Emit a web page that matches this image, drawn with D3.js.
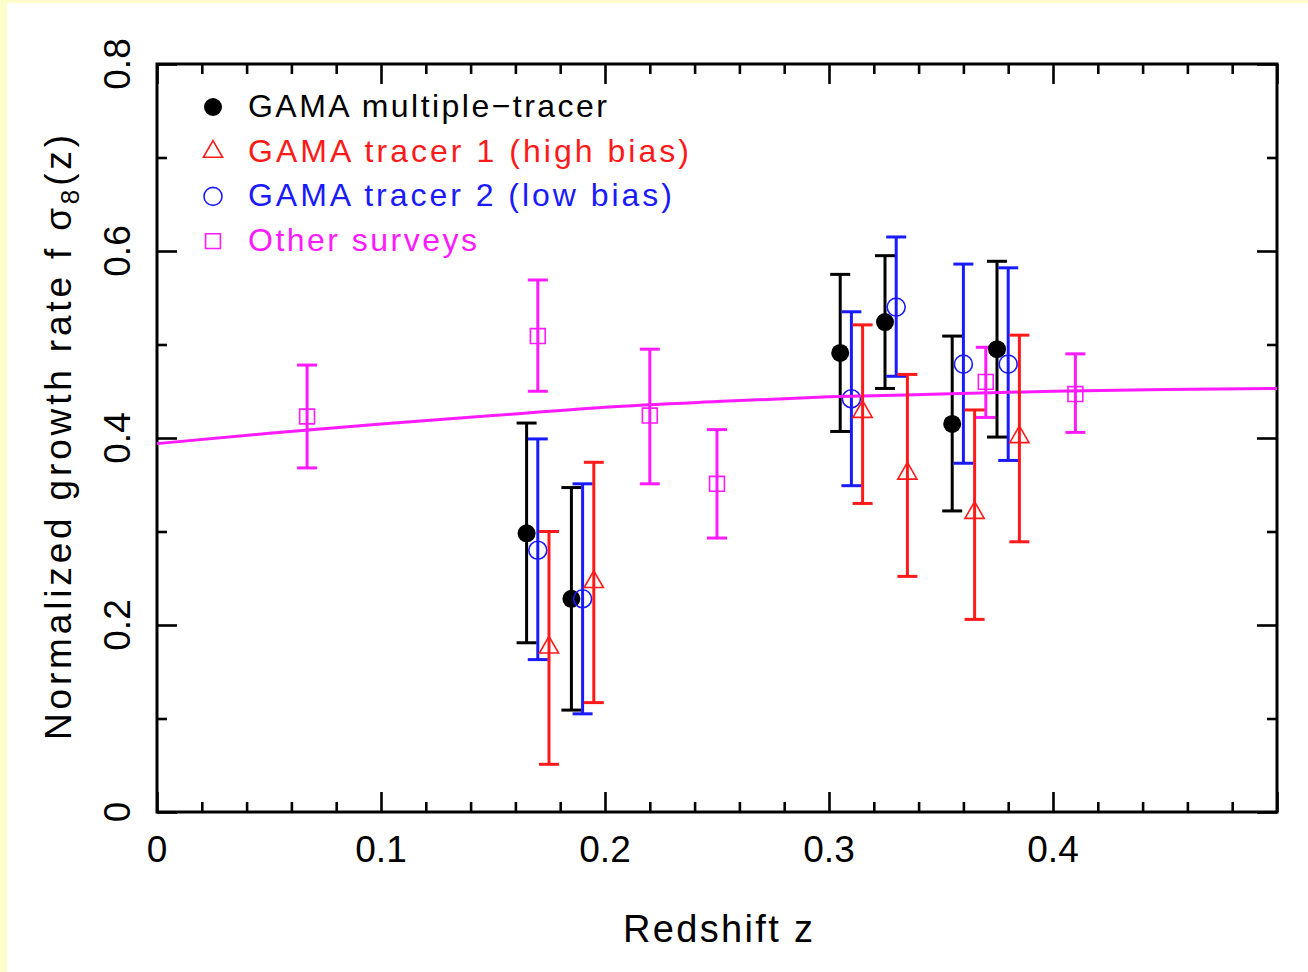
<!DOCTYPE html>
<html>
<head>
<meta charset="utf-8">
<script src="https://cdn.jsdelivr.net/npm/d3@7"></script>
<style>
  html, body { margin: 0; padding: 0; background: #fffdcc; }
  svg { display: block; }
  text { font-family: "Liberation Sans", Arial, sans-serif; }
</style>
</head>
<body>
<svg id="chart" width="1308" height="972"></svg>
<script>
// Growth-rate measurements f*sigma8(z): GAMA multiple-tracer, single tracers and other surveys
const multiZ  = [0.165, 0.185, 0.305, 0.325, 0.355, 0.375];
const multiF  = [0.298, 0.228, 0.491, 0.524, 0.415, 0.495];
const multiLo = [0.181, 0.109, 0.407, 0.453, 0.322, 0.401];
const multiHi = [0.416, 0.347, 0.575, 0.595, 0.509, 0.589];

const tracer1Z  = [0.175, 0.195, 0.315, 0.335, 0.365, 0.385];
const tracer1F  = [0.176, 0.246, 0.428, 0.362, 0.320, 0.401];
const tracer1Lo = [0.051, 0.117, 0.330, 0.252, 0.206, 0.289];
const tracer1Hi = [0.300, 0.374, 0.521, 0.468, 0.430, 0.510];

const tracer2Z  = [0.17, 0.19, 0.31, 0.33, 0.36, 0.38];
const tracer2F  = [0.280, 0.228, 0.442, 0.540, 0.479, 0.479];
const tracer2Lo = [0.163, 0.105, 0.349, 0.466, 0.373, 0.376];
const tracer2Hi = [0.399, 0.351, 0.535, 0.615, 0.586, 0.582];

const otherZ  = [0.067, 0.17, 0.22, 0.25, 0.37, 0.41];
const otherF  = [0.423, 0.509, 0.424, 0.351, 0.460, 0.447];
const otherLo = [0.368, 0.450, 0.351, 0.293, 0.422, 0.406];
const otherHi = [0.478, 0.569, 0.495, 0.409, 0.497, 0.490];

// LCDM prediction
const modelZ = [0, 0.05, 0.1, 0.15, 0.2, 0.25, 0.3, 0.35, 0.4, 0.45, 0.5];
const modelF = [0.394, 0.405, 0.415, 0.424, 0.433, 0.439, 0.444, 0.447, 0.450, 0.452, 0.453];

const xMajor = [0, 0.1, 0.2, 0.3, 0.4, 0.5];
const xLabels = ["0", "0.1", "0.2", "0.3", "0.4", ""];
const xMinor = [0.02, 0.04, 0.06, 0.08, 0.12, 0.14, 0.16, 0.18, 0.22, 0.24, 0.26, 0.28,
                0.32, 0.34, 0.36, 0.38, 0.42, 0.44, 0.46, 0.48];
const yMajor = [0, 0.2, 0.4, 0.6, 0.8];
const yLabels = ["0", "0.2", "0.4", "0.6", "0.8"];
const yMinor = [0.1, 0.3, 0.5, 0.7];

const legendLabels = ["GAMA multiple\u2212tracer", "GAMA tracer 1 (high bias)",
                      "GAMA tracer 2 (low bias)", "Other surveys"];

const svg = d3.select("#chart");
svg.append("rect").attr("x", 7).attr("y", 3).attr("width", 1301).attr("height", 969).attr("fill", "#ffffff");

const pLeft = 157, pRight = 1277, pTop = 64, pBottom = 812;
const x = d3.scaleLinear().domain([0, 0.5]).range([pLeft, pRight]);
const y = d3.scaleLinear().domain([0, 0.8]).range([pBottom, pTop]);

const BLACK = "#000000", RED = "#ff1a1a", BLUE = "#1a1aff", MAG = "#ff1aff";

// ticks on all four sides, pointing inward
function tickAxis(axisFn, scale, vals, size, tx, ty) {
  const g = svg.append("g").attr("transform", `translate(${tx},${ty})`)
    .call(axisFn(scale).tickValues(vals).tickSize(size).tickFormat(""));
  g.select(".domain").remove();
  g.selectAll(".tick line").attr("stroke", BLACK).attr("stroke-width", 2.6);
  return g;
}
tickAxis(d3.axisBottom, x, xMajor, -20, 0, pBottom);
tickAxis(d3.axisBottom, x, xMinor, -10, 0, pBottom);
tickAxis(d3.axisTop, x, xMajor, -20, 0, pTop);
tickAxis(d3.axisTop, x, xMinor, -10, 0, pTop);
tickAxis(d3.axisLeft, y, yMajor, -20, pLeft, 0);
tickAxis(d3.axisLeft, y, yMinor, -10, pLeft, 0);
tickAxis(d3.axisRight, y, yMajor, -20, pRight, 0);
tickAxis(d3.axisRight, y, yMinor, -10, pRight, 0);

svg.append("rect").attr("x", pLeft).attr("y", pTop).attr("width", pRight - pLeft).attr("height", pBottom - pTop)
  .attr("fill", "none").attr("stroke", BLACK).attr("stroke-width", 3);

// tick labels
svg.append("g").selectAll("text").data(xMajor).join("text")
  .attr("x", d => x(d)).attr("y", 862).attr("text-anchor", "middle")
  .attr("font-size", 37).attr("fill", BLACK).text((d, i) => xLabels[i]);
svg.append("g").selectAll("text").data(yMajor).join("text")
  .attr("transform", d => `translate(130,${y(d)}) rotate(-90)`).attr("text-anchor", "middle")
  .attr("font-size", 37).attr("fill", BLACK).text((d, i) => yLabels[i]);

// axis titles
svg.append("text").attr("x", 623).attr("y", 942).attr("font-size", 38).attr("fill", BLACK)
  .attr("textLength", 190).attr("lengthAdjust", "spacing").text("Redshift z");
const yt = svg.append("text").attr("transform", "translate(71,740) rotate(-90)")
  .attr("font-size", 37).attr("fill", BLACK).attr("textLength", 605).attr("lengthAdjust", "spacing");
yt.append("tspan").text("Normalized growth rate f \u03c3");
yt.append("tspan").attr("font-size", 26).attr("dy", 8).text("8");
yt.append("tspan").attr("dy", -8).text("(z)");

// model curve
const line = d3.line().x((d, i) => x(modelZ[i])).y(d => y(d)).curve(d3.curveMonotoneX);

function errorBars(zs, lo, hi, color) {
  const g = svg.append("g").attr("stroke", color).attr("stroke-width", 3).attr("fill", "none");
  zs.forEach((z, i) => {
    g.append("line").attr("x1", x(z)).attr("x2", x(z)).attr("y1", y(lo[i])).attr("y2", y(hi[i]));
    g.append("line").attr("x1", x(z) - 10).attr("x2", x(z) + 10).attr("y1", y(lo[i])).attr("y2", y(lo[i]));
    g.append("line").attr("x1", x(z) - 10).attr("x2", x(z) + 10).attr("y1", y(hi[i])).attr("y2", y(hi[i]));
  });
}

const sym = {
  dot: d3.symbol().type(d3.symbolCircle).size(Math.PI * 81),
  circle: d3.symbol().type(d3.symbolCircle).size(Math.PI * 81),
  tri: d3.symbol().type(d3.symbolTriangle).size(160),
  square: d3.symbol().type(d3.symbolSquare).size(220)
};
function markers(zs, fs, path, fill, stroke) {
  svg.append("g").selectAll("path").data(fs).join("path")
    .attr("transform", (d, i) => `translate(${x(zs[i])},${y(d)})`)
    .attr("d", path).attr("fill", fill).attr("stroke", stroke).attr("stroke-width", 1.6);
}

errorBars(otherZ, otherLo, otherHi, MAG);
markers(otherZ, otherF, sym.square(), "none", MAG);
errorBars(multiZ, multiLo, multiHi, BLACK);
markers(multiZ, multiF, sym.dot(), BLACK, "none");
errorBars(tracer2Z, tracer2Lo, tracer2Hi, BLUE);
markers(tracer2Z, tracer2F, sym.circle(), "none", BLUE);
svg.append("path").datum(modelF).attr("d", line).attr("fill", "none").attr("stroke", MAG).attr("stroke-width", 3);
errorBars(tracer1Z, tracer1Lo, tracer1Hi, RED);
markers(tracer1Z, tracer1F, sym.tri(), "none", RED);

// legend
const legColors = [BLACK, RED, BLUE, MAG];
const legWidths = [359, 441, 424, 229];
const legSyms = [sym.dot(), sym.tri(), sym.circle(), sym.square()];
const legFill = [BLACK, "none", "none", "none"];
const legStroke = ["none", RED, BLUE, MAG];
const leg = svg.append("g");
legendLabels.forEach((t, i) => {
  const base = 117 + i * 44.7;
  leg.append("path").attr("d", legSyms[i]).attr("transform", `translate(213,${base - 10})`)
    .attr("fill", legFill[i]).attr("stroke", legStroke[i]).attr("stroke-width", 1.6);
  leg.append("text").attr("x", 248).attr("y", base).attr("font-size", 32).attr("fill", legColors[i])
    .attr("textLength", legWidths[i]).attr("lengthAdjust", "spacing").text(t);
});
</script>
</body>
</html>
